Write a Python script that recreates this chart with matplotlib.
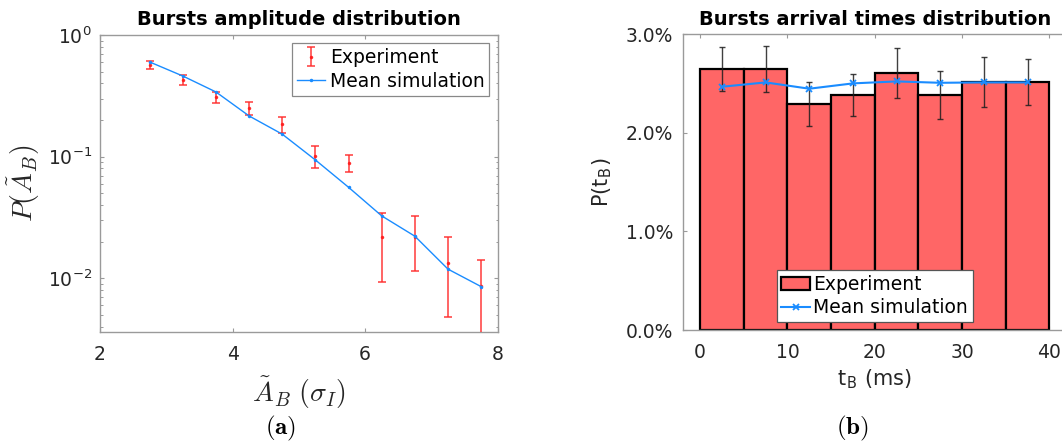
import matplotlib
matplotlib.use("Agg")
import matplotlib.pyplot as plt
import numpy as np
from matplotlib.ticker import LogLocator, PercentFormatter, NullFormatter

plt.rcParams['font.family'] = ['DejaVu Sans']
plt.rcParams['mathtext.fontset'] = 'cm'
plt.rcParams['axes.unicode_minus'] = False

# ---- (a) burst amplitude distribution ----
amp_centers = [2.75, 3.25, 3.75, 4.25, 4.75, 5.25, 5.75, 6.25, 6.75, 7.25, 7.75]
amp_exp = [0.567, 0.427, 0.308, 0.250, 0.1846, 0.1013, 0.0883, 0.0220, 0.0220, 0.0133, 0.0087]
amp_exp_err = [0.039, 0.040, 0.034, 0.030, 0.029, 0.020, 0.014, 0.0126, 0.0105, 0.0085, 0.0054]
amp_sim = [0.600, 0.460, 0.340, 0.216, 0.153, 0.0939, 0.056, 0.0326, 0.0222, 0.0119, 0.00855]

# ---- (b) burst arrival times distribution ----
t_edges = [0, 5, 10, 15, 20, 25, 30, 35, 40]
t_exp = [2.647, 2.647, 2.292, 2.380, 2.606, 2.380, 2.515, 2.515]          # percent
t_exp_err = [0.225, 0.230, 0.225, 0.213, 0.254, 0.243, 0.253, 0.230]     # percent
t_sim = [2.468, 2.512, 2.448, 2.502, 2.522, 2.508, 2.512, 2.512]          # percent

W, H = 1062, 444
fig = plt.figure(figsize=(W / 100, H / 100), dpi=100)

frame_col = '#9a9a9a'
text_col = '#262626'
sim_col = '#1a8cff'


def px_axes(x0, x1, ytop, ybot):
    return fig.add_axes([x0 / W, 1 - ybot / H, (x1 - x0) / W, (ybot - ytop) / H])


def style_frame(ax):
    for s in ax.spines.values():
        s.set_color(frame_col)
        s.set_linewidth(1.0)
    ax.tick_params(which='both', direction='in', top=True, right=True,
                   color=frame_col, labelcolor=text_col, labelsize=13.5)
    ax.tick_params(which='major', length=3.2, width=0.8)
    ax.tick_params(which='minor', length=1.8, width=0.7)
    ax.tick_params(axis='x', pad=9.5)
    ax.tick_params(axis='y', pad=5.8)


# (a)
ax1 = px_axes(100, 497.7, 35, 332.3)
ax1.set_yscale('log')
h_exp = ax1.errorbar(amp_centers, amp_exp, yerr=amp_exp_err, fmt='.', color='#ff1a1a',
                     ecolor='#ff2a2a', elinewidth=1.2, capsize=3.2, capthick=1.2,
                     markersize=3, label='Experiment', zorder=3, alpha=0.85)
h_sim, = ax1.plot(amp_centers, amp_sim, '-', marker='.', markersize=3, color=sim_col,
                  linewidth=1.0, label='Mean simulation', zorder=4)
ax1.set_xlim(2, 8)
ax1.set_ylim(0.0036, 1)
ax1.set_xticks([2, 4, 6, 8])
ax1.yaxis.set_major_locator(LogLocator(base=10, numticks=10))
ax1.yaxis.set_minor_locator(LogLocator(base=10, subs=np.arange(2, 10), numticks=20))
ax1.yaxis.set_minor_formatter(NullFormatter())
style_frame(ax1)
ax1.set_title('Bursts amplitude distribution', fontsize=14, fontweight='bold', pad=7)
ax1.set_ylabel(r'$P(\tilde{A}_B)$', fontsize=20, color=text_col)
ax1.yaxis.set_label_coords(-0.145, 0.5)
ax1.set_xlabel(r'$\tilde{A}_B\ (\sigma_I)$', fontsize=20, color=text_col)
ax1.xaxis.set_label_coords(0.5, -0.14)
leg1 = ax1.legend([h_exp, h_sim], ['Experiment', 'Mean simulation'],
                  loc='upper right', fontsize=13.5, fancybox=False, framealpha=1,
                  edgecolor='#888888', handlelength=1.5, handletextpad=0.25,
                  borderaxespad=0.45, labelspacing=0.25, borderpad=0.25)
leg1.get_frame().set_linewidth(0.9)

# (b)
ax2 = px_axes(682.7, 1066.8, 34.3, 330)
widths = np.diff(t_edges)
lefts = np.array(t_edges[:-1])
mids = lefts + widths / 2
h_bar = ax2.bar(lefts, t_exp, width=widths, align='edge', color='#ff6666',
                edgecolor='black', linewidth=1.6, label='Experiment', zorder=2)
ax2.errorbar(mids, t_exp, yerr=t_exp_err, fmt='none', ecolor='#1e1e1e',
             elinewidth=1.0, capsize=2.5, capthick=1.0, zorder=3, alpha=0.85)
h_line, = ax2.plot(mids, t_sim, '-', marker='x', markersize=4, markeredgewidth=1.3,
                   color=sim_col, linewidth=1.5, label='Mean simulation', zorder=4)
ax2.set_xlim(-2, 42)
ax2.set_ylim(0, 3)
ax2.set_xticks([0, 10, 20, 30, 40])
ax2.set_yticks([0, 1, 2, 3])
ax2.yaxis.set_major_formatter(PercentFormatter(xmax=100, decimals=1))
style_frame(ax2)
ax2.tick_params(axis='y', pad=6.8)
ax2.set_title('Bursts arrival times distribution', fontsize=14, fontweight='bold', pad=7)
ax2.set_ylabel(r'P(t$_\mathregular{B}$)', fontsize=15, color=text_col)
ax2.yaxis.set_label_coords(-0.178, 0.5)
ax2.set_xlabel(r't$_\mathregular{B}$ (ms)', fontsize=15, color=text_col)
ax2.xaxis.set_label_coords(0.5, -0.128)
leg2 = ax2.legend([h_bar, h_line], ['Experiment', 'Mean simulation'],
                  loc='lower center', fontsize=13.5, fancybox=False, framealpha=1,
                  edgecolor='#555555', handlelength=1.5, handletextpad=0.2,
                  borderaxespad=0.42, labelspacing=0.25, borderpad=0.25)
leg2.get_frame().set_linewidth(0.9)

fig.text(281 / W, 1 - 428 / H, r'$\mathbf{(a)}$', fontsize=18, ha='center', va='center')
fig.text(852 / W, 1 - 428 / H, r'$\mathbf{(b)}$', fontsize=18, ha='center', va='center')

fig.savefig('out.png', dpi=100)
